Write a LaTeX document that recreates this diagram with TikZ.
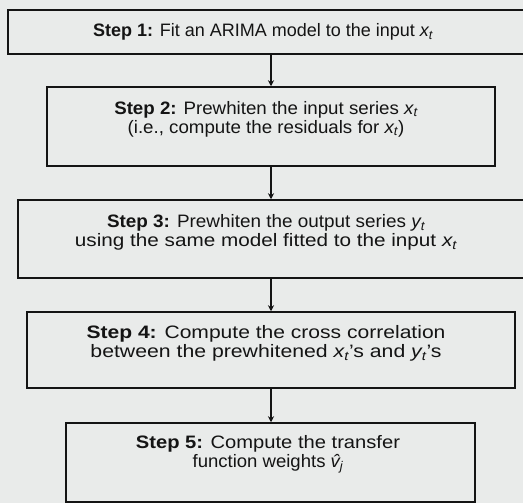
\documentclass[tikz,border=0pt]{standalone}
\usepackage{graphicx}
\usepackage{fontspec}
\setmainfont{Liberation Sans}
\usetikzlibrary{arrows.meta}
\definecolor{bgc}{RGB}{233,235,234}
\definecolor{ink}{RGB}{20,20,20}
\newcommand{\hstretch}[2]{\scalebox{#1}[1]{#2}}
\begin{document}
\begin{tikzpicture}[x=1pt,y=-1pt,
  stepbox/.style={draw=ink,line width=1.5pt,rectangle,inner sep=0pt},
  txt/.style={align=center,text=ink,font=\fontsize{18}{19}\selectfont},
  conn/.style={draw=ink,line width=2pt,-{Stealth[length=6pt,width=6pt]}}]
\fill[bgc] (0,0) rectangle (523,503);
\useasboundingbox (0,0) rectangle (523,503);
\node[stepbox,minimum width=526pt,minimum height=44pt] (b1) at (271,32) {};
\node[stepbox,minimum width=448pt,minimum height=79pt] (b2) at (271,126.5) {};
\node[stepbox,minimum width=506pt,minimum height=78pt] (b3) at (271,239) {};
\node[stepbox,minimum width=488pt,minimum height=76pt] (b4) at (271,350) {};
\node[stepbox,minimum width=409pt,minimum height=79pt] (b5) at (270.5,462.5) {};
\node[txt] (t1) at (263,32) {\textbf{Step 1:} Fit an ARIMA model to the input \textit{x\textsubscript{t}}};
\node[txt] (t2) at (266,119) {\hstretch{1.04}{\textbf{Step 2:} Prewhiten the input series \textit{x\textsubscript{t}}}\\\hstretch{1.04}{(i.e., compute the residuals for \textit{x\textsubscript{t}})}};
\node[txt] (t3) at (266,232.5) {\hstretch{1.05}{\textbf{Step 3:} Prewhiten the output series \textit{y\textsubscript{t}}}\\\hstretch{1.15}{using the same model fitted to the input \textit{x\textsubscript{t}}}};
\node[txt] (t4) at (266,343.5) {\hstretch{1.17}{\textbf{Step 4:} Compute the cross correlation}\\\hstretch{1.18}{between the prewhitened \textit{x\textsubscript{t}}’s and \textit{y\textsubscript{t}}’s}};
\node[txt] (t5) at (268,454) {\hstretch{1.12}{\textbf{Step 5:} Compute the transfer}\\\hstretch{1.03}{function weights \textit{\^{v}\textsubscript{j}}}};
\draw[conn] (b1.south -| 271,0) -- (b2.north -| 271,0);
\draw[conn] (b2.south -| 271,0) -- (b3.north -| 271,0);
\draw[conn] (b3.south -| 271,0) -- (b4.north -| 271,0);
\draw[conn] (b4.south -| 271,0) -- (b5.north -| 271,0);
\end{tikzpicture}
\end{document}
